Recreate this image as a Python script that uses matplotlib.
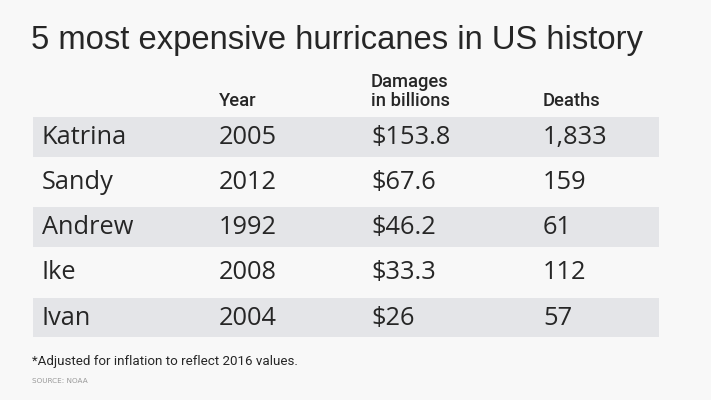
import matplotlib
matplotlib.use("Agg")
from matplotlib import pyplot as plt

# table data
names = ["Katrina", "Sandy", "Andrew", "Ike", "Ivan"]
years = ["2005", "2012", "1992", "2008", "2004"]
damages = ["$153.8", "$67.6", "$46.2", "$33.3", "$26"]
deaths = ["1,833", "159", "61", "112", "57"]
headers = ["", "Year", "Damages\nin billions", "Deaths"]

title = "5 most expensive hurricanes in US history"
note = "*Adjusted for inflation to reflect 2016 values."
source = "SOURCE: NOAA"

bg = "#f8f8f8"
band = "#e4e5e8"
ink = "#262626"

fig = plt.figure(figsize=(7.11, 4.0), dpi=100, facecolor=bg)
ax = fig.add_axes([0, 0, 1, 1])
ax.set_xlim(0, 711)
ax.set_ylim(400, 0)
ax.axis("off")

col_x = [42, 219, 371, 543]
row_top = 117
row_step = 45.2
row_h = 39.5

# title
ax.text(31, 49, title, fontsize=23.6, color=ink, va="baseline", family="Liberation Sans")

# column headers
for x, h in zip(col_x, headers):
    if h:
        ax.text(x, 106.5, h, fontsize=13.2, color=ink, va="baseline", family="Roboto",
                fontweight="medium", linespacing=1.12)

# rows with alternating bands
for i, row in enumerate(zip(names, years, damages, deaths)):
    y0 = row_top + i * row_step
    if i % 2 == 0:
        ax.add_patch(plt.Rectangle((33, y0), 626, row_h, color=band, lw=0))
    for x, s in zip(col_x, row):
        ax.text(x, y0 + row_h / 2 + 0.5, s, fontsize=18.3, color=ink, va="center",
                family="Open Sans")

ax.text(32, 362, note, fontsize=9.6, color=ink, va="center", family="Roboto")
ax.text(32, 381, source, fontsize=5.2, color="#999999", va="center",
        family="DejaVu Sans")

fig.savefig("out.png", dpi=100, facecolor=bg)
